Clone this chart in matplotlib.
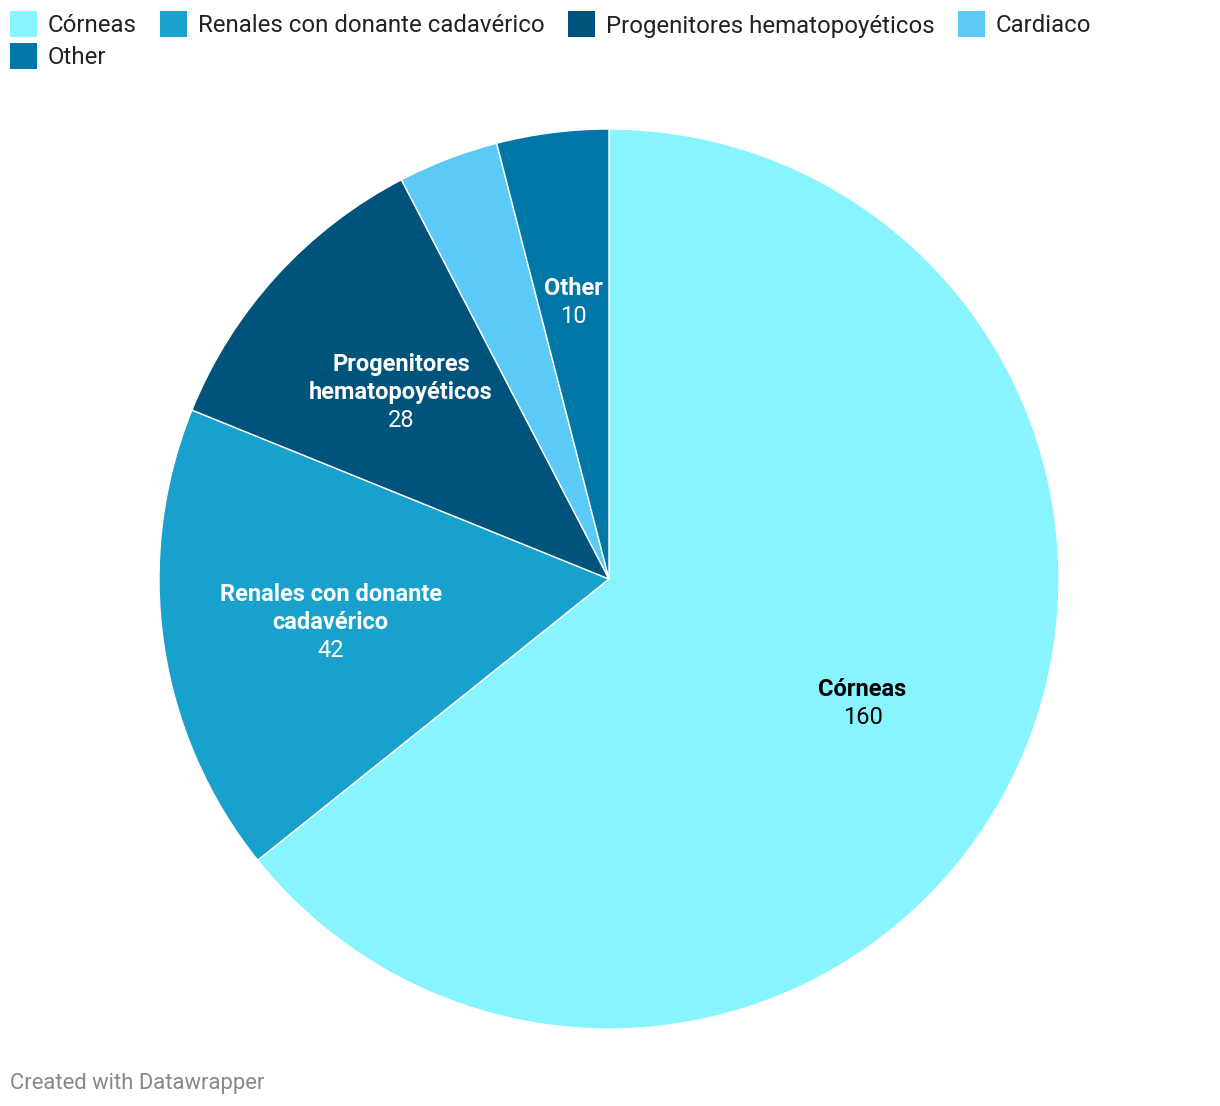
import numpy as np
import matplotlib.pyplot as plt

plt.rcParams['font.family'] = ['Roboto', 'DejaVu Sans']

# Data
labels = ["Córneas", "Renales con donante cadavérico",
          "Progenitores hematopoyéticos", "Cardiaco", "Other"]
values = [160, 42, 28, 9, 10]
colors = ["#88f4ff", "#19a1cd", "#00547b", "#5bcaf7", "#0077a6"]
# slice labels (wrapped like the original); None = not shown
slice_text = ["Córneas", "Renales con donante\ncadavérico",
              "Progenitores\nhematopoyéticos", None, "Other"]
text_colors = ["#000000", "#ffffff", "#ffffff", "#ffffff", "#ffffff"]

W, H = 1220, 1106
fig = plt.figure(figsize=(W / 100, H / 100), dpi=100)

# pie axes: center (609, 579) px, radius 450 px
cx, cy, r = 609, 579, 450
ax = fig.add_axes([(cx - r) / W, (H - cy - r) / H, 2 * r / W, 2 * r / H])
wedges, _ = ax.pie(values, colors=colors, startangle=90, counterclock=False,
                   radius=1, wedgeprops=dict(edgecolor="white", linewidth=1))
ax.set_xlim(-1, 1)
ax.set_ylim(-1, 1)
ax.set_aspect("equal")
ax.axis("off")

# slice labels
for w, txt, val, tc in zip(wedges, slice_text, values, text_colors):
    if txt is None:
        continue
    mid = np.deg2rad((w.theta1 + w.theta2) / 2)
    x, y = 0.625 * np.cos(mid), 0.625 * np.sin(mid) - 3 / r
    nlines = txt.count("\n") + 1
    step = 28 / r  # line spacing in data units
    top = y + step * (nlines + 1) / 2
    for i, line in enumerate(txt.split("\n")):
        ax.text(x, top - step * (i + 0.5), line, ha="center", va="center",
                fontsize=17, fontweight="bold", color=tc)
    ax.text(x, top - step * (nlines + 0.5), str(val), ha="center",
            va="center", fontsize=17, color=tc)

# legend drawn by hand
leg_items = [(10, 24), (160, 24), (568, 24), (958, 24), (10, 56)]
for (lx, ly), lab, col in zip(leg_items, labels, colors):
    fig.patches.append(plt.Rectangle((lx / W, (H - ly - 13) / H), 27 / W,
                                     26 / H, transform=fig.transFigure,
                                     facecolor=col, edgecolor="none"))
    fig.text((lx + 38) / W, (H - ly - 2) / H, lab, ha="left", va="center",
             fontsize=17.3, color="#222222")

fig.text(10 / W, (H - 1083) / H, "Created with Datawrapper", ha="left",
         va="center", fontsize=15.8, color="#888888")

fig.savefig("out.png", dpi=100)
